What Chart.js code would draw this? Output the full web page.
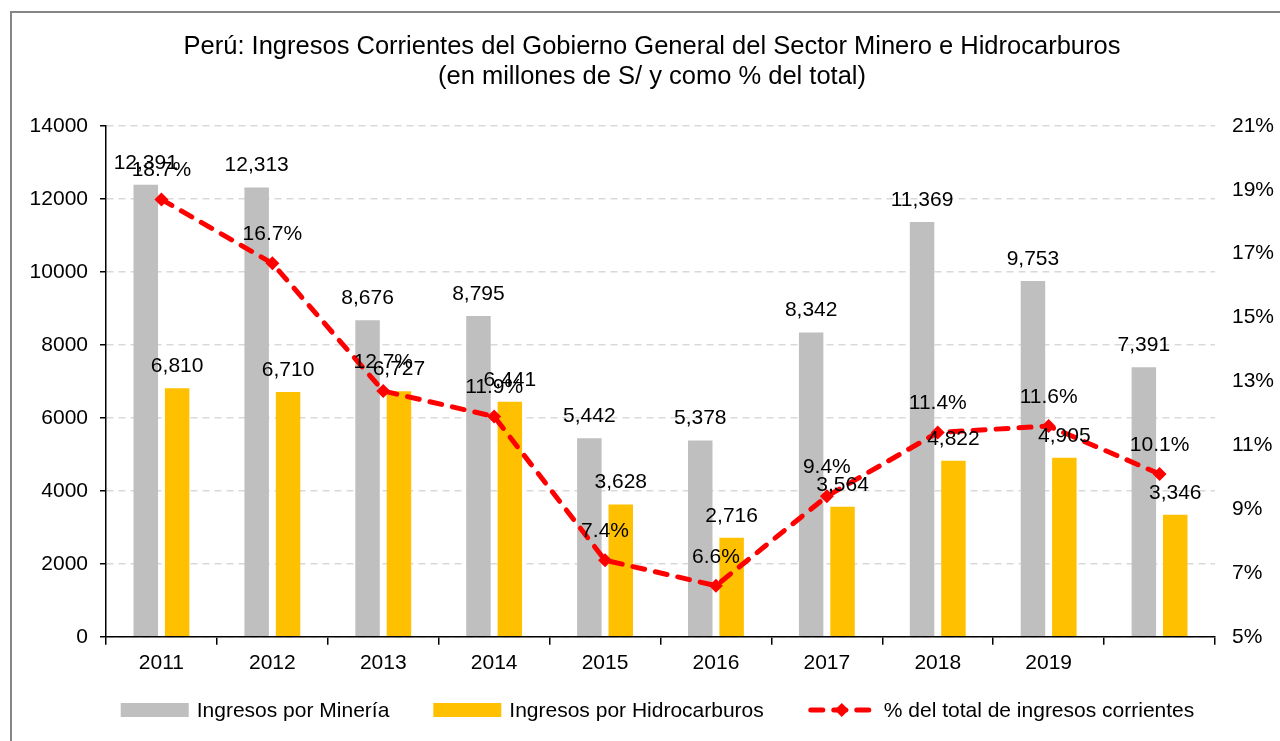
<!DOCTYPE html>
<html>
<head>
<meta charset="utf-8">
<script src="https://cdn.jsdelivr.net/npm/chart.js@4/dist/chart.umd.min.js"></script>
<style>
  html, body { margin: 0; padding: 0; background: #fff; }
  #wrap { position: relative; width: 1280px; height: 741px; overflow: hidden; }
  #frame { position: absolute; left: 10px; top: 11px; width: 1400px; height: 900px; border: 2px solid #868686; }
  #chart { position: absolute; left: 0; top: 0; }
</style>
</head>
<body>
<div id="wrap">
  <div id="frame"></div>
  <canvas id="chart" width="1280" height="741"></canvas>
</div>
<script>
// Perú: ingresos corrientes del gobierno general, sector minero e hidrocarburos
const years = ['2011', '2012', '2013', '2014', '2015', '2016', '2017', '2018', '2019', ''];
const mineria = [12391, 12313, 8676, 8795, 5442, 5378, 8342, 11369, 9753, 7391];
const hidrocarburos = [6810, 6710, 6727, 6441, 3628, 2716, 3564, 4822, 4905, 3346];
const pctTotal = [18.7, 16.7, 12.7, 11.9, 7.4, 6.6, 9.4, 11.4, 11.6, 10.1];
const leftTicks = [0, 2000, 4000, 6000, 8000, 10000, 12000, 14000];
const rightTicks = [5, 7, 9, 11, 13, 15, 17, 19, 21];

const COLORS = {
    gray: '#bfbfbf',
    gold: '#ffc000',
    red: '#ff0000',
    grid: '#d9d9d9',
    text: '#000000',
};
const FONT = "Arial, 'Liberation Sans', sans-serif";
const FS = 21;
const LINE_DASH = [12, 11];

Chart.defaults.font.family = FONT;
Chart.defaults.color = COLORS.text;

// numbers over bars and percentages over the line points
const valueLabels = {
    id: 'valueLabels',
    afterDatasetsDraw(chart) {
        const ctx = chart.ctx;
        ctx.save();
        ctx.font = FS + 'px ' + FONT;
        ctx.fillStyle = COLORS.text;
        ctx.textAlign = 'center';
        ctx.textBaseline = 'middle';
        [0, 1].forEach(i => {
            const values = chart.data.datasets[i].data;
            chart.getDatasetMeta(i).data.forEach((bar, j) => {
                ctx.fillText(values[j].toLocaleString('en-US'), bar.x, bar.y - 22);
            });
        });
        chart.getDatasetMeta(2).data.forEach((pt, j) => {
            ctx.fillText(pctTotal[j].toFixed(1) + '%', pt.x, pt.y - 29);
        });
        ctx.restore();
    }
};

// legend drawn by hand so the item spacing can follow the Excel look
const bottomLegend = {
    id: 'bottomLegend',
    afterDraw(chart) {
        const ctx = chart.ctx;
        const sw = 68, gapText = 8, gapItem = 44, y = 710;
        ctx.save();
        ctx.font = FS + 'px ' + FONT;
        const items = chart.data.datasets.map(ds => ({ ds, w: ctx.measureText(ds.label).width }));
        const total = items.reduce((s, it) => s + sw + gapText + it.w, 0) + gapItem * (items.length - 1);
        let x = (chart.chartArea.left + chart.chartArea.right) / 2 - total / 2 - 3;
        items.forEach(it => {
            const ds = it.ds;
            if (ds.type === 'line') {
                ctx.save();
                ctx.strokeStyle = ds.borderColor;
                ctx.lineWidth = ds.borderWidth;
                ctx.lineCap = 'round';
                ctx.setLineDash(LINE_DASH);
                ctx.beginPath();
                ctx.moveTo(x + 3, y);
                ctx.lineTo(x + sw - 3, y);
                ctx.stroke();
                ctx.restore();
                ctx.fillStyle = ds.borderColor;
                ctx.beginPath();
                ctx.moveTo(x + sw / 2, y - 7);
                ctx.lineTo(x + sw / 2 + 7, y);
                ctx.lineTo(x + sw / 2, y + 7);
                ctx.lineTo(x + sw / 2 - 7, y);
                ctx.closePath();
                ctx.fill();
            } else {
                ctx.fillStyle = ds.backgroundColor;
                ctx.fillRect(x, y - 7, sw, 14);
            }
            ctx.fillStyle = COLORS.text;
            ctx.textAlign = 'left';
            ctx.textBaseline = 'middle';
            ctx.fillText(ds.label, x + sw + gapText, y + 1);
            x += sw + gapText + it.w + gapItem;
        });
        ctx.restore();
    }
};

new Chart(document.getElementById('chart'), {
    data: {
        labels: years,
        datasets: [
            {
                type: 'bar',
                label: 'Ingresos por Minería',
                data: mineria,
                backgroundColor: COLORS.gray,
                yAxisID: 'y',
                order: 2,
                categoryPercentage: 0.566,
                barPercentage: 0.78,
            },
            {
                type: 'bar',
                label: 'Ingresos por Hidrocarburos',
                data: hidrocarburos,
                backgroundColor: COLORS.gold,
                yAxisID: 'y',
                order: 2,
                categoryPercentage: 0.566,
                barPercentage: 0.78,
            },
            {
                type: 'line',
                label: '% del total de ingresos corrientes',
                data: pctTotal,
                borderColor: COLORS.red,
                backgroundColor: COLORS.red,
                borderWidth: 5,
                borderDash: LINE_DASH,
                borderCapStyle: 'round',
                tension: 0,
                pointStyle: 'rectRot',
                pointRadius: 7,
                pointBorderWidth: 0,
                pointBackgroundColor: COLORS.red,
                yAxisID: 'y1',
                order: 0,
            },
        ]
    },
    options: {
        responsive: false,
        animation: false,
        layout: { padding: { left: 24, right: 0, top: 0, bottom: 59 } },
        scales: {
            x: {
                offset: true,
                grid: { display: true, offset: true, drawOnChartArea: false, color: '#000', tickLength: 8, lineWidth: 1.5 },
                border: { color: '#000', width: 1.5 },
                ticks: { font: { size: FS }, color: COLORS.text, padding: 6, maxRotation: 0, autoSkip: false },
            },
            y: {
                position: 'left',
                min: 0,
                max: 14000,
                afterBuildTicks: s => { s.ticks = leftTicks.map(v => ({ value: v })); },
                grid: { color: COLORS.grid, lineWidth: 1.5, tickColor: '#000', tickLength: 6, tickWidth: 1.5 },
                border: { color: '#000', width: 1.5, dash: [7, 5] },
                ticks: { font: { size: FS }, color: COLORS.text, padding: 12, callback: v => String(v) },
                afterFit: s => { s.width = 82; },
            },
            y1: {
                position: 'right',
                min: 5,
                max: 21,
                afterBuildTicks: s => { s.ticks = rightTicks.map(v => ({ value: v })); },
                grid: { display: false, drawOnChartArea: false, drawTicks: false },
                border: { display: false },
                ticks: { font: { size: FS }, color: COLORS.text, padding: 17, callback: v => v + '%' },
                afterFit: s => { s.width = 65; },
            },
        },
        plugins: {
            legend: { display: false },
            tooltip: { enabled: false },
            title: {
                display: true,
                text: ['Perú: Ingresos Corrientes del Gobierno General del Sector Minero e Hidrocarburos',
                       '(en millones de S/ y como % del total)'],
                color: COLORS.text,
                font: { size: 25.5, weight: 'normal', lineHeight: '30px' },
                padding: { top: 32, bottom: 34 },
            },
        },
    },
    plugins: [valueLabels, bottomLegend],
});
</script>
</body>
</html>
